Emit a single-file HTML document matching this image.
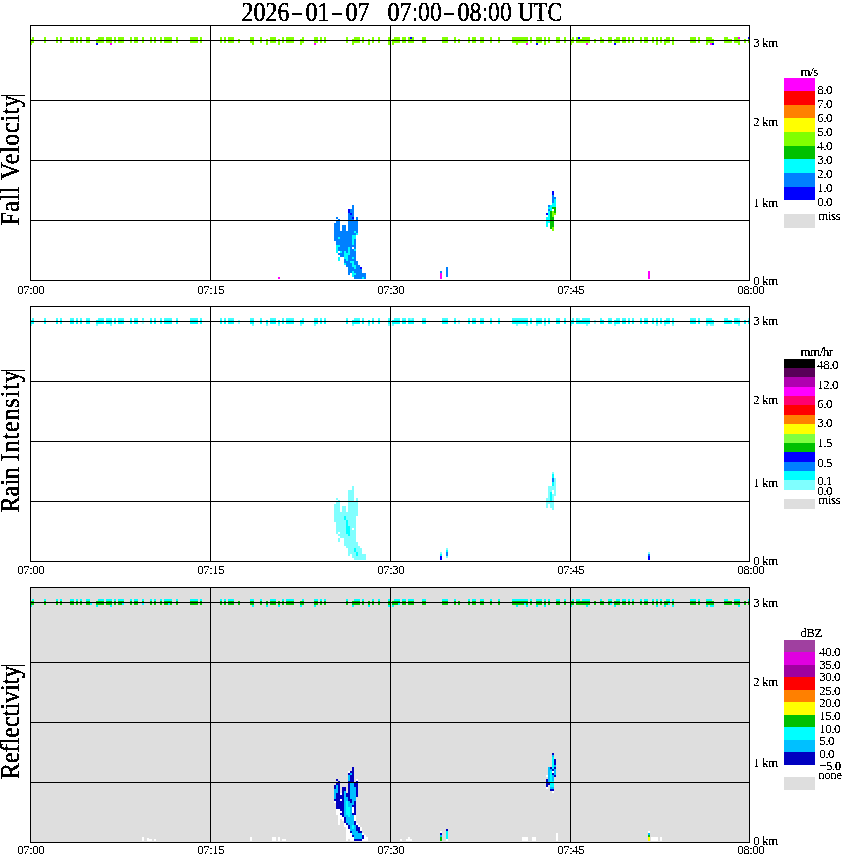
<!DOCTYPE html>
<html><head><meta charset="utf-8"><title>Radar profile 2026-01-07 07:00-08:00 UTC</title>
<style>
html,body{margin:0;padding:0;background:#fff;}
body{width:850px;height:868px;overflow:hidden;position:relative;}
svg{position:absolute;left:0;top:0;display:block;}
text{font-family:"Liberation Serif",serif;fill:#000;}
.s{font-size:13px;letter-spacing:-0.5px;}
.g{shape-rendering:crispEdges;}
</style></head><body>
<svg width="850" height="868" viewBox="0 0 850 868">
<defs>
<filter id="bw" x="-5%" y="-20%" width="110%" height="140%" color-interpolation-filters="sRGB"><feComponentTransfer><feFuncA type="discrete" tableValues="0 0 1 1 1"/></feComponentTransfer></filter>
<filter id="bw3" x="-5%" y="-20%" width="110%" height="140%" color-interpolation-filters="sRGB"><feComponentTransfer><feFuncA type="discrete" tableValues="0 1 1"/></feComponentTransfer></filter>
<filter id="bw2" x="-5%" y="-20%" width="110%" height="140%" color-interpolation-filters="sRGB"><feComponentTransfer><feFuncA type="discrete" tableValues="0 1"/></feComponentTransfer></filter>
</defs>
<rect width="850" height="868" fill="#fff"/>

<g class="g">
<rect x="30" y="587" width="720" height="256" fill="#dedede"/>
<rect x="32" y="37" width="2" height="2" fill="#80ff00"/>
<rect x="44" y="37" width="2" height="6" fill="#80ff00"/>
<rect x="56" y="37" width="2" height="6" fill="#80ff00"/>
<rect x="60" y="37" width="2" height="6" fill="#80ff00"/>
<rect x="70" y="37" width="4" height="6" fill="#80ff00"/>
<rect x="76" y="37" width="2" height="6" fill="#80ff00"/>
<rect x="80" y="37" width="2" height="6" fill="#80ff00"/>
<rect x="86" y="37" width="4" height="6" fill="#80ff00"/>
<rect x="98" y="37" width="6" height="2" fill="#80ff00"/>
<rect x="106" y="37" width="6" height="6" fill="#80ff00"/>
<rect x="114" y="37" width="2" height="6" fill="#80ff00"/>
<rect x="118" y="37" width="6" height="6" fill="#80ff00"/>
<rect x="130" y="37" width="2" height="6" fill="#80ff00"/>
<rect x="134" y="37" width="4" height="6" fill="#80ff00"/>
<rect x="142" y="37" width="2" height="6" fill="#80ff00"/>
<rect x="150" y="37" width="2" height="6" fill="#80ff00"/>
<rect x="154" y="37" width="2" height="6" fill="#80ff00"/>
<rect x="160" y="37" width="2" height="6" fill="#80ff00"/>
<rect x="164" y="37" width="8" height="6" fill="#80ff00"/>
<rect x="176" y="37" width="2" height="6" fill="#80ff00"/>
<rect x="190" y="37" width="8" height="6" fill="#80ff00"/>
<rect x="200" y="37" width="2" height="6" fill="#80ff00"/>
<rect x="220" y="37" width="2" height="6" fill="#80ff00"/>
<rect x="224" y="37" width="2" height="6" fill="#80ff00"/>
<rect x="228" y="37" width="6" height="6" fill="#80ff00"/>
<rect x="250" y="37" width="4" height="6" fill="#80ff00"/>
<rect x="260" y="37" width="2" height="6" fill="#80ff00"/>
<rect x="270" y="37" width="6" height="6" fill="#80ff00"/>
<rect x="282" y="37" width="2" height="6" fill="#80ff00"/>
<rect x="286" y="37" width="8" height="6" fill="#80ff00"/>
<rect x="302" y="37" width="2" height="2" fill="#80ff00"/>
<rect x="314" y="37" width="4" height="6" fill="#80ff00"/>
<rect x="320" y="37" width="2" height="6" fill="#80ff00"/>
<rect x="324" y="37" width="2" height="6" fill="#80ff00"/>
<rect x="346" y="37" width="2" height="6" fill="#80ff00"/>
<rect x="354" y="37" width="6" height="2" fill="#80ff00"/>
<rect x="362" y="37" width="2" height="6" fill="#80ff00"/>
<rect x="372" y="37" width="2" height="6" fill="#80ff00"/>
<rect x="378" y="37" width="2" height="6" fill="#80ff00"/>
<rect x="388" y="37" width="2" height="8" fill="#80ff00"/>
<rect x="394" y="37" width="6" height="2" fill="#80ff00"/>
<rect x="402" y="37" width="4" height="6" fill="#80ff00"/>
<rect x="408" y="37" width="2" height="2" fill="#80ff00"/>
<rect x="410" y="37" width="2" height="2" fill="#0000ff"/>
<rect x="412" y="37" width="2" height="2" fill="#80ff00"/>
<rect x="422" y="37" width="4" height="6" fill="#80ff00"/>
<rect x="442" y="37" width="6" height="6" fill="#80ff00"/>
<rect x="454" y="37" width="2" height="6" fill="#80ff00"/>
<rect x="468" y="37" width="2" height="6" fill="#80ff00"/>
<rect x="472" y="37" width="4" height="6" fill="#80ff00"/>
<rect x="480" y="37" width="4" height="6" fill="#80ff00"/>
<rect x="490" y="37" width="2" height="6" fill="#80ff00"/>
<rect x="498" y="37" width="2" height="6" fill="#80ff00"/>
<rect x="512" y="37" width="16" height="6" fill="#80ff00"/>
<rect x="530" y="37" width="2" height="6" fill="#80ff00"/>
<rect x="536" y="37" width="6" height="6" fill="#80ff00"/>
<rect x="544" y="37" width="2" height="8" fill="#80ff00"/>
<rect x="548" y="37" width="2" height="6" fill="#80ff00"/>
<rect x="556" y="37" width="4" height="6" fill="#80ff00"/>
<rect x="564" y="37" width="2" height="6" fill="#80ff00"/>
<rect x="572" y="37" width="2" height="2" fill="#80ff00"/>
<rect x="576" y="37" width="2" height="2" fill="#80ff00"/>
<rect x="578" y="37" width="2" height="2" fill="#0000ff"/>
<rect x="582" y="37" width="8" height="2" fill="#80ff00"/>
<rect x="600" y="37" width="2" height="2" fill="#80ff00"/>
<rect x="608" y="37" width="4" height="6" fill="#80ff00"/>
<rect x="616" y="37" width="4" height="2" fill="#80ff00"/>
<rect x="622" y="37" width="4" height="6" fill="#80ff00"/>
<rect x="628" y="37" width="2" height="6" fill="#80ff00"/>
<rect x="632" y="37" width="2" height="6" fill="#80ff00"/>
<rect x="640" y="37" width="2" height="6" fill="#80ff00"/>
<rect x="644" y="37" width="4" height="6" fill="#80ff00"/>
<rect x="652" y="37" width="2" height="6" fill="#80ff00"/>
<rect x="656" y="37" width="2" height="8" fill="#80ff00"/>
<rect x="660" y="37" width="2" height="6" fill="#80ff00"/>
<rect x="666" y="37" width="4" height="2" fill="#80ff00"/>
<rect x="672" y="37" width="2" height="8" fill="#80ff00"/>
<rect x="690" y="37" width="6" height="6" fill="#80ff00"/>
<rect x="698" y="37" width="2" height="6" fill="#80ff00"/>
<rect x="706" y="37" width="6" height="2" fill="#80ff00"/>
<rect x="724" y="37" width="4" height="2" fill="#80ff00"/>
<rect x="734" y="37" width="4" height="2" fill="#80ff00"/>
<rect x="738" y="37" width="2" height="2" fill="#ff00ff"/>
<rect x="748" y="37" width="2" height="2" fill="#0000ff"/>
<rect x="30" y="39" width="4" height="4" fill="#80ff00"/>
<rect x="96" y="39" width="8" height="4" fill="#80ff00"/>
<rect x="238" y="39" width="2" height="4" fill="#80ff00"/>
<rect x="266" y="39" width="2" height="6" fill="#80ff00"/>
<rect x="278" y="39" width="2" height="6" fill="#80ff00"/>
<rect x="300" y="39" width="4" height="4" fill="#80ff00"/>
<rect x="352" y="39" width="8" height="4" fill="#80ff00"/>
<rect x="368" y="39" width="2" height="6" fill="#80ff00"/>
<rect x="392" y="39" width="8" height="4" fill="#80ff00"/>
<rect x="408" y="39" width="6" height="4" fill="#80ff00"/>
<rect x="458" y="39" width="2" height="4" fill="#80ff00"/>
<rect x="570" y="39" width="4" height="4" fill="#80ff00"/>
<rect x="576" y="39" width="14" height="4" fill="#80ff00"/>
<rect x="594" y="39" width="2" height="4" fill="#80ff00"/>
<rect x="600" y="39" width="4" height="4" fill="#80ff00"/>
<rect x="614" y="39" width="6" height="4" fill="#80ff00"/>
<rect x="664" y="39" width="6" height="4" fill="#80ff00"/>
<rect x="706" y="39" width="8" height="4" fill="#80ff00"/>
<rect x="724" y="39" width="8" height="4" fill="#80ff00"/>
<rect x="734" y="39" width="6" height="4" fill="#80ff00"/>
<rect x="744" y="39" width="2" height="4" fill="#80ff00"/>
<rect x="748" y="39" width="2" height="4" fill="#80ff00"/>
<rect x="30" y="43" width="2" height="2" fill="#80ff00"/>
<rect x="96" y="43" width="2" height="2" fill="#0000ff"/>
<rect x="110" y="43" width="2" height="2" fill="#ff00ff"/>
<rect x="252" y="43" width="2" height="2" fill="#80ff00"/>
<rect x="300" y="43" width="2" height="2" fill="#80ff00"/>
<rect x="314" y="43" width="2" height="2" fill="#ff00ff"/>
<rect x="352" y="43" width="2" height="2" fill="#80ff00"/>
<rect x="392" y="43" width="2" height="2" fill="#80ff00"/>
<rect x="516" y="43" width="2" height="2" fill="#80ff00"/>
<rect x="526" y="43" width="2" height="2" fill="#ff00ff"/>
<rect x="536" y="43" width="2" height="2" fill="#0000ff"/>
<rect x="570" y="43" width="2" height="2" fill="#80ff00"/>
<rect x="586" y="43" width="2" height="2" fill="#ff00ff"/>
<rect x="614" y="43" width="2" height="2" fill="#0000ff"/>
<rect x="664" y="43" width="2" height="2" fill="#80ff00"/>
<rect x="706" y="43" width="2" height="2" fill="#80ff00"/>
<rect x="710" y="43" width="2" height="2" fill="#ff00ff"/>
<rect x="712" y="43" width="2" height="2" fill="#0000ff"/>
<rect x="738" y="43" width="2" height="2" fill="#80ff00"/>
<rect x="552" y="191" width="2" height="4" fill="#0000ff"/>
<rect x="552" y="195" width="2" height="2" fill="#0080ff"/>
<rect x="552" y="199" width="2" height="4" fill="#0080ff"/>
<rect x="552" y="197" width="4" height="2" fill="#0080ff"/>
<rect x="554" y="199" width="2" height="4" fill="#00ffff"/>
<rect x="552" y="203" width="4" height="2" fill="#00ffff"/>
<rect x="352" y="205" width="2" height="4" fill="#0080ff"/>
<rect x="352" y="213" width="2" height="2" fill="#0080ff"/>
<rect x="548" y="205" width="2" height="2" fill="#0080ff"/>
<rect x="548" y="209" width="2" height="2" fill="#0080ff"/>
<rect x="550" y="205" width="6" height="2" fill="#00ffff"/>
<rect x="548" y="207" width="4" height="2" fill="#00ffff"/>
<rect x="552" y="207" width="4" height="2" fill="#00c000"/>
<rect x="348" y="209" width="2" height="4" fill="#0000ff"/>
<rect x="350" y="209" width="4" height="4" fill="#0080ff"/>
<rect x="350" y="249" width="4" height="2" fill="#0080ff"/>
<rect x="550" y="209" width="2" height="2" fill="#00ffff"/>
<rect x="552" y="209" width="2" height="2" fill="#ffffff"/>
<rect x="554" y="209" width="2" height="4" fill="#00c000"/>
<rect x="548" y="211" width="2" height="6" fill="#00ffff"/>
<rect x="550" y="211" width="2" height="6" fill="#00c000"/>
<rect x="550" y="227" width="2" height="2" fill="#00c000"/>
<rect x="552" y="211" width="2" height="2" fill="#80ff00"/>
<rect x="552" y="215" width="2" height="2" fill="#80ff00"/>
<rect x="552" y="227" width="2" height="4" fill="#80ff00"/>
<rect x="348" y="213" width="2" height="2" fill="#0080ff"/>
<rect x="348" y="273" width="2" height="2" fill="#0080ff"/>
<rect x="350" y="213" width="2" height="2" fill="#0000ff"/>
<rect x="546" y="213" width="2" height="2" fill="#0000ff"/>
<rect x="552" y="213" width="4" height="2" fill="#80ff00"/>
<rect x="348" y="215" width="6" height="2" fill="#0080ff"/>
<rect x="348" y="219" width="6" height="2" fill="#0080ff"/>
<rect x="348" y="267" width="6" height="2" fill="#0080ff"/>
<rect x="336" y="217" width="2" height="2" fill="#0080ff"/>
<rect x="348" y="217" width="4" height="2" fill="#0080ff"/>
<rect x="348" y="257" width="4" height="2" fill="#0080ff"/>
<rect x="348" y="271" width="4" height="2" fill="#0080ff"/>
<rect x="352" y="217" width="2" height="2" fill="#0000ff"/>
<rect x="356" y="217" width="2" height="4" fill="#0080ff"/>
<rect x="356" y="231" width="2" height="2" fill="#0080ff"/>
<rect x="546" y="217" width="4" height="6" fill="#00ffff"/>
<rect x="550" y="217" width="4" height="10" fill="#00c000"/>
<rect x="338" y="219" width="2" height="2" fill="#0080ff"/>
<rect x="336" y="221" width="4" height="2" fill="#0080ff"/>
<rect x="348" y="221" width="10" height="10" fill="#0080ff"/>
<rect x="334" y="223" width="6" height="8" fill="#0080ff"/>
<rect x="546" y="223" width="2" height="4" fill="#00ffff"/>
<rect x="342" y="225" width="4" height="6" fill="#0080ff"/>
<rect x="334" y="231" width="20" height="2" fill="#0080ff"/>
<rect x="354" y="231" width="2" height="2" fill="#00ffff"/>
<rect x="354" y="249" width="2" height="2" fill="#00ffff"/>
<rect x="354" y="267" width="2" height="2" fill="#00ffff"/>
<rect x="334" y="233" width="22" height="2" fill="#0080ff"/>
<rect x="356" y="233" width="2" height="2" fill="#00ffff"/>
<rect x="334" y="235" width="18" height="2" fill="#0080ff"/>
<rect x="334" y="239" width="18" height="2" fill="#0080ff"/>
<rect x="352" y="235" width="4" height="4" fill="#00ffff"/>
<rect x="352" y="265" width="4" height="2" fill="#00ffff"/>
<rect x="352" y="273" width="4" height="2" fill="#00ffff"/>
<rect x="334" y="237" width="4" height="2" fill="#0080ff"/>
<rect x="338" y="237" width="2" height="2" fill="#00ffff"/>
<rect x="338" y="257" width="2" height="4" fill="#00ffff"/>
<rect x="340" y="237" width="12" height="2" fill="#0080ff"/>
<rect x="352" y="239" width="2" height="6" fill="#00ffff"/>
<rect x="352" y="257" width="2" height="2" fill="#00ffff"/>
<rect x="352" y="263" width="2" height="2" fill="#00ffff"/>
<rect x="352" y="271" width="2" height="2" fill="#00ffff"/>
<rect x="352" y="275" width="2" height="2" fill="#00ffff"/>
<rect x="354" y="239" width="2" height="6" fill="#0080ff"/>
<rect x="354" y="247" width="2" height="2" fill="#0080ff"/>
<rect x="354" y="257" width="2" height="2" fill="#0080ff"/>
<rect x="336" y="241" width="16" height="4" fill="#0080ff"/>
<rect x="336" y="245" width="4" height="2" fill="#00ffff"/>
<rect x="340" y="245" width="16" height="2" fill="#0080ff"/>
<rect x="336" y="247" width="2" height="6" fill="#00ffff"/>
<rect x="338" y="247" width="10" height="4" fill="#0080ff"/>
<rect x="348" y="247" width="2" height="6" fill="#00ffff"/>
<rect x="350" y="247" width="2" height="2" fill="#0080ff"/>
<rect x="352" y="247" width="2" height="2" fill="#ffffff"/>
<rect x="338" y="251" width="2" height="2" fill="#ffffff"/>
<rect x="340" y="251" width="2" height="2" fill="#00ffff"/>
<rect x="342" y="251" width="2" height="2" fill="#0080ff"/>
<rect x="344" y="251" width="2" height="2" fill="#00ffff"/>
<rect x="344" y="263" width="2" height="2" fill="#00ffff"/>
<rect x="346" y="251" width="2" height="2" fill="#0080ff"/>
<rect x="350" y="251" width="6" height="4" fill="#0080ff"/>
<rect x="338" y="253" width="6" height="2" fill="#0080ff"/>
<rect x="344" y="253" width="6" height="2" fill="#00ffff"/>
<rect x="340" y="255" width="4" height="2" fill="#0080ff"/>
<rect x="344" y="255" width="4" height="4" fill="#00ffff"/>
<rect x="348" y="255" width="8" height="2" fill="#0080ff"/>
<rect x="348" y="259" width="8" height="2" fill="#0080ff"/>
<rect x="344" y="259" width="2" height="2" fill="#0080ff"/>
<rect x="346" y="259" width="2" height="2" fill="#00ffff"/>
<rect x="344" y="261" width="6" height="2" fill="#0080ff"/>
<rect x="350" y="261" width="4" height="2" fill="#00ffff"/>
<rect x="354" y="261" width="4" height="4" fill="#0080ff"/>
<rect x="346" y="263" width="6" height="4" fill="#0080ff"/>
<rect x="356" y="265" width="4" height="4" fill="#0080ff"/>
<rect x="360" y="267" width="2" height="2" fill="#0000ff"/>
<rect x="446" y="267" width="2" height="10" fill="#0080ff"/>
<rect x="348" y="269" width="14" height="2" fill="#0080ff"/>
<rect x="354" y="271" width="8" height="2" fill="#0080ff"/>
<rect x="354" y="277" width="8" height="2" fill="#0080ff"/>
<rect x="440" y="271" width="2" height="2" fill="#0080ff"/>
<rect x="648" y="271" width="2" height="8" fill="#ff00ff"/>
<rect x="356" y="273" width="10" height="2" fill="#0080ff"/>
<rect x="440" y="273" width="2" height="6" fill="#ff00ff"/>
<rect x="354" y="275" width="12" height="2" fill="#0080ff"/>
<rect x="278" y="277" width="2" height="2" fill="#ff00ff"/>
<rect x="362" y="277" width="2" height="2" fill="#00ffff"/>
<rect x="364" y="277" width="2" height="2" fill="#0080ff"/>
<rect x="32" y="318" width="2" height="2" fill="#40ffff"/>
<rect x="44" y="318" width="2" height="2" fill="#40ffff"/>
<rect x="56" y="318" width="2" height="2" fill="#40ffff"/>
<rect x="60" y="318" width="2" height="2" fill="#40ffff"/>
<rect x="70" y="318" width="4" height="2" fill="#40ffff"/>
<rect x="76" y="318" width="2" height="2" fill="#40ffff"/>
<rect x="80" y="318" width="2" height="2" fill="#40ffff"/>
<rect x="86" y="318" width="4" height="2" fill="#40ffff"/>
<rect x="98" y="318" width="6" height="2" fill="#40ffff"/>
<rect x="106" y="318" width="6" height="2" fill="#40ffff"/>
<rect x="114" y="318" width="2" height="2" fill="#40ffff"/>
<rect x="118" y="318" width="6" height="2" fill="#40ffff"/>
<rect x="130" y="318" width="2" height="2" fill="#40ffff"/>
<rect x="134" y="318" width="4" height="2" fill="#40ffff"/>
<rect x="142" y="318" width="2" height="2" fill="#40ffff"/>
<rect x="150" y="318" width="2" height="2" fill="#40ffff"/>
<rect x="154" y="318" width="2" height="2" fill="#40ffff"/>
<rect x="160" y="318" width="2" height="2" fill="#40ffff"/>
<rect x="164" y="318" width="8" height="2" fill="#40ffff"/>
<rect x="176" y="318" width="2" height="2" fill="#40ffff"/>
<rect x="190" y="318" width="8" height="2" fill="#40ffff"/>
<rect x="200" y="318" width="2" height="2" fill="#40ffff"/>
<rect x="220" y="318" width="2" height="2" fill="#40ffff"/>
<rect x="224" y="318" width="2" height="2" fill="#40ffff"/>
<rect x="228" y="318" width="6" height="2" fill="#40ffff"/>
<rect x="250" y="318" width="4" height="2" fill="#40ffff"/>
<rect x="260" y="318" width="2" height="2" fill="#40ffff"/>
<rect x="270" y="318" width="6" height="2" fill="#40ffff"/>
<rect x="282" y="318" width="2" height="2" fill="#40ffff"/>
<rect x="286" y="318" width="8" height="2" fill="#40ffff"/>
<rect x="302" y="318" width="2" height="2" fill="#40ffff"/>
<rect x="314" y="318" width="4" height="2" fill="#40ffff"/>
<rect x="320" y="318" width="2" height="2" fill="#40ffff"/>
<rect x="324" y="318" width="2" height="2" fill="#40ffff"/>
<rect x="346" y="318" width="2" height="2" fill="#40ffff"/>
<rect x="354" y="318" width="6" height="2" fill="#40ffff"/>
<rect x="362" y="318" width="2" height="2" fill="#40ffff"/>
<rect x="372" y="318" width="2" height="2" fill="#40ffff"/>
<rect x="378" y="318" width="2" height="2" fill="#40ffff"/>
<rect x="388" y="318" width="2" height="2" fill="#40ffff"/>
<rect x="394" y="318" width="6" height="2" fill="#40ffff"/>
<rect x="402" y="318" width="4" height="2" fill="#40ffff"/>
<rect x="408" y="318" width="2" height="2" fill="#40ffff"/>
<rect x="410" y="318" width="2" height="2" fill="#80ffff"/>
<rect x="412" y="318" width="2" height="2" fill="#40ffff"/>
<rect x="422" y="318" width="4" height="2" fill="#40ffff"/>
<rect x="442" y="318" width="6" height="2" fill="#40ffff"/>
<rect x="454" y="318" width="2" height="2" fill="#40ffff"/>
<rect x="468" y="318" width="2" height="2" fill="#40ffff"/>
<rect x="472" y="318" width="4" height="2" fill="#40ffff"/>
<rect x="480" y="318" width="4" height="2" fill="#40ffff"/>
<rect x="490" y="318" width="2" height="2" fill="#40ffff"/>
<rect x="498" y="318" width="2" height="2" fill="#40ffff"/>
<rect x="512" y="318" width="16" height="2" fill="#40ffff"/>
<rect x="530" y="318" width="2" height="2" fill="#40ffff"/>
<rect x="536" y="318" width="6" height="2" fill="#40ffff"/>
<rect x="544" y="318" width="2" height="2" fill="#40ffff"/>
<rect x="548" y="318" width="2" height="2" fill="#40ffff"/>
<rect x="556" y="318" width="4" height="2" fill="#40ffff"/>
<rect x="564" y="318" width="2" height="2" fill="#40ffff"/>
<rect x="572" y="318" width="2" height="2" fill="#40ffff"/>
<rect x="576" y="318" width="2" height="2" fill="#40ffff"/>
<rect x="578" y="318" width="2" height="2" fill="#80ffff"/>
<rect x="582" y="318" width="8" height="2" fill="#40ffff"/>
<rect x="600" y="318" width="2" height="2" fill="#40ffff"/>
<rect x="608" y="318" width="4" height="2" fill="#40ffff"/>
<rect x="616" y="318" width="4" height="2" fill="#40ffff"/>
<rect x="622" y="318" width="4" height="2" fill="#40ffff"/>
<rect x="628" y="318" width="2" height="2" fill="#40ffff"/>
<rect x="632" y="318" width="2" height="2" fill="#40ffff"/>
<rect x="640" y="318" width="2" height="2" fill="#40ffff"/>
<rect x="644" y="318" width="4" height="2" fill="#40ffff"/>
<rect x="652" y="318" width="2" height="2" fill="#40ffff"/>
<rect x="656" y="318" width="2" height="2" fill="#40ffff"/>
<rect x="660" y="318" width="2" height="2" fill="#40ffff"/>
<rect x="666" y="318" width="4" height="2" fill="#40ffff"/>
<rect x="672" y="318" width="2" height="2" fill="#40ffff"/>
<rect x="690" y="318" width="6" height="2" fill="#40ffff"/>
<rect x="698" y="318" width="2" height="2" fill="#40ffff"/>
<rect x="706" y="318" width="6" height="2" fill="#40ffff"/>
<rect x="724" y="318" width="4" height="2" fill="#40ffff"/>
<rect x="734" y="318" width="4" height="2" fill="#40ffff"/>
<rect x="738" y="318" width="2" height="2" fill="#80ffff"/>
<rect x="738" y="324" width="2" height="2" fill="#80ffff"/>
<rect x="748" y="318" width="2" height="2" fill="#80ffff"/>
<rect x="30" y="320" width="4" height="4" fill="#00ffff"/>
<rect x="44" y="320" width="2" height="4" fill="#00ffff"/>
<rect x="56" y="320" width="2" height="4" fill="#00ffff"/>
<rect x="60" y="320" width="2" height="4" fill="#00ffff"/>
<rect x="70" y="320" width="4" height="4" fill="#00ffff"/>
<rect x="76" y="320" width="2" height="4" fill="#00ffff"/>
<rect x="80" y="320" width="2" height="4" fill="#00ffff"/>
<rect x="86" y="320" width="4" height="4" fill="#00ffff"/>
<rect x="96" y="320" width="8" height="4" fill="#00ffff"/>
<rect x="106" y="320" width="6" height="4" fill="#00ffff"/>
<rect x="114" y="320" width="2" height="4" fill="#00ffff"/>
<rect x="118" y="320" width="6" height="4" fill="#00ffff"/>
<rect x="130" y="320" width="2" height="4" fill="#00ffff"/>
<rect x="134" y="320" width="4" height="4" fill="#00ffff"/>
<rect x="142" y="320" width="2" height="4" fill="#80ffff"/>
<rect x="150" y="320" width="2" height="4" fill="#00ffff"/>
<rect x="154" y="320" width="2" height="4" fill="#00ffff"/>
<rect x="160" y="320" width="2" height="4" fill="#00ffff"/>
<rect x="164" y="320" width="8" height="4" fill="#00ffff"/>
<rect x="176" y="320" width="2" height="4" fill="#00ffff"/>
<rect x="190" y="320" width="8" height="4" fill="#00ffff"/>
<rect x="200" y="320" width="2" height="4" fill="#00ffff"/>
<rect x="220" y="320" width="2" height="4" fill="#00ffff"/>
<rect x="224" y="320" width="2" height="4" fill="#00ffff"/>
<rect x="228" y="320" width="6" height="4" fill="#00ffff"/>
<rect x="238" y="320" width="2" height="4" fill="#80ffff"/>
<rect x="250" y="320" width="4" height="4" fill="#00ffff"/>
<rect x="260" y="320" width="2" height="4" fill="#00ffff"/>
<rect x="266" y="320" width="2" height="4" fill="#00ffff"/>
<rect x="270" y="320" width="6" height="4" fill="#00ffff"/>
<rect x="278" y="320" width="2" height="4" fill="#00ffff"/>
<rect x="282" y="320" width="2" height="4" fill="#00ffff"/>
<rect x="286" y="320" width="8" height="4" fill="#00ffff"/>
<rect x="300" y="320" width="4" height="4" fill="#00ffff"/>
<rect x="314" y="320" width="4" height="4" fill="#00ffff"/>
<rect x="320" y="320" width="2" height="4" fill="#00ffff"/>
<rect x="324" y="320" width="2" height="4" fill="#00ffff"/>
<rect x="346" y="320" width="2" height="4" fill="#00ffff"/>
<rect x="346" y="520" width="2" height="6" fill="#00ffff"/>
<rect x="352" y="320" width="8" height="4" fill="#00ffff"/>
<rect x="362" y="320" width="2" height="4" fill="#00ffff"/>
<rect x="368" y="320" width="2" height="4" fill="#00ffff"/>
<rect x="372" y="320" width="2" height="4" fill="#00ffff"/>
<rect x="378" y="320" width="2" height="4" fill="#00ffff"/>
<rect x="388" y="320" width="2" height="4" fill="#00ffff"/>
<rect x="392" y="320" width="8" height="4" fill="#00ffff"/>
<rect x="402" y="320" width="4" height="4" fill="#00ffff"/>
<rect x="408" y="320" width="6" height="4" fill="#00ffff"/>
<rect x="422" y="320" width="4" height="4" fill="#00ffff"/>
<rect x="442" y="320" width="6" height="4" fill="#00ffff"/>
<rect x="454" y="320" width="2" height="4" fill="#00ffff"/>
<rect x="458" y="320" width="2" height="4" fill="#80ffff"/>
<rect x="468" y="320" width="2" height="4" fill="#00ffff"/>
<rect x="472" y="320" width="4" height="4" fill="#00ffff"/>
<rect x="480" y="320" width="4" height="4" fill="#00ffff"/>
<rect x="490" y="320" width="2" height="4" fill="#00ffff"/>
<rect x="498" y="320" width="2" height="4" fill="#00ffff"/>
<rect x="512" y="320" width="16" height="4" fill="#00ffff"/>
<rect x="530" y="320" width="2" height="4" fill="#00ffff"/>
<rect x="536" y="320" width="6" height="4" fill="#00ffff"/>
<rect x="544" y="320" width="2" height="4" fill="#00ffff"/>
<rect x="548" y="320" width="2" height="4" fill="#00ffff"/>
<rect x="556" y="320" width="4" height="4" fill="#00ffff"/>
<rect x="564" y="320" width="2" height="4" fill="#00ffff"/>
<rect x="570" y="320" width="4" height="4" fill="#00ffff"/>
<rect x="576" y="320" width="14" height="4" fill="#00ffff"/>
<rect x="594" y="320" width="2" height="4" fill="#80ffff"/>
<rect x="600" y="320" width="4" height="4" fill="#00ffff"/>
<rect x="608" y="320" width="4" height="4" fill="#00ffff"/>
<rect x="614" y="320" width="6" height="4" fill="#00ffff"/>
<rect x="622" y="320" width="4" height="4" fill="#00ffff"/>
<rect x="628" y="320" width="2" height="4" fill="#00ffff"/>
<rect x="632" y="320" width="2" height="4" fill="#00ffff"/>
<rect x="640" y="320" width="2" height="4" fill="#00ffff"/>
<rect x="644" y="320" width="4" height="4" fill="#00ffff"/>
<rect x="652" y="320" width="2" height="4" fill="#00ffff"/>
<rect x="656" y="320" width="2" height="4" fill="#00ffff"/>
<rect x="660" y="320" width="2" height="4" fill="#00ffff"/>
<rect x="664" y="320" width="6" height="4" fill="#00ffff"/>
<rect x="672" y="320" width="2" height="4" fill="#00ffff"/>
<rect x="690" y="320" width="6" height="4" fill="#00ffff"/>
<rect x="698" y="320" width="2" height="4" fill="#00ffff"/>
<rect x="706" y="320" width="8" height="4" fill="#00ffff"/>
<rect x="724" y="320" width="8" height="4" fill="#00ffff"/>
<rect x="734" y="320" width="6" height="4" fill="#00ffff"/>
<rect x="744" y="320" width="2" height="4" fill="#00ffff"/>
<rect x="748" y="320" width="2" height="4" fill="#00ffff"/>
<rect x="30" y="324" width="2" height="2" fill="#80ffff"/>
<rect x="96" y="324" width="2" height="2" fill="#80ffff"/>
<rect x="110" y="324" width="2" height="2" fill="#80ffff"/>
<rect x="252" y="324" width="2" height="2" fill="#80ffff"/>
<rect x="266" y="324" width="2" height="2" fill="#80ffff"/>
<rect x="278" y="324" width="2" height="2" fill="#80ffff"/>
<rect x="300" y="324" width="2" height="2" fill="#80ffff"/>
<rect x="314" y="324" width="2" height="2" fill="#80ffff"/>
<rect x="352" y="324" width="2" height="2" fill="#80ffff"/>
<rect x="352" y="486" width="2" height="4" fill="#80ffff"/>
<rect x="368" y="324" width="2" height="2" fill="#80ffff"/>
<rect x="388" y="324" width="2" height="2" fill="#80ffff"/>
<rect x="392" y="324" width="2" height="2" fill="#80ffff"/>
<rect x="516" y="324" width="2" height="2" fill="#80ffff"/>
<rect x="526" y="324" width="2" height="2" fill="#80ffff"/>
<rect x="536" y="324" width="2" height="2" fill="#80ffff"/>
<rect x="544" y="324" width="2" height="2" fill="#80ffff"/>
<rect x="570" y="324" width="2" height="2" fill="#80ffff"/>
<rect x="586" y="324" width="2" height="2" fill="#80ffff"/>
<rect x="614" y="324" width="2" height="2" fill="#80ffff"/>
<rect x="656" y="324" width="2" height="2" fill="#80ffff"/>
<rect x="664" y="324" width="2" height="2" fill="#80ffff"/>
<rect x="672" y="324" width="2" height="2" fill="#80ffff"/>
<rect x="706" y="324" width="2" height="2" fill="#80ffff"/>
<rect x="710" y="324" width="4" height="2" fill="#80ffff"/>
<rect x="552" y="472" width="2" height="2" fill="#80ffff"/>
<rect x="552" y="496" width="2" height="6" fill="#80ffff"/>
<rect x="552" y="508" width="2" height="2" fill="#80ffff"/>
<rect x="552" y="474" width="2" height="4" fill="#00ffff"/>
<rect x="552" y="482" width="2" height="4" fill="#00ffff"/>
<rect x="552" y="478" width="2" height="4" fill="#0080ff"/>
<rect x="554" y="478" width="2" height="8" fill="#80ffff"/>
<rect x="554" y="490" width="2" height="4" fill="#80ffff"/>
<rect x="548" y="486" width="8" height="4" fill="#80ffff"/>
<rect x="348" y="490" width="6" height="12" fill="#80ffff"/>
<rect x="348" y="548" width="6" height="4" fill="#80ffff"/>
<rect x="548" y="490" width="4" height="2" fill="#80ffff"/>
<rect x="552" y="490" width="2" height="4" fill="#ffffff"/>
<rect x="548" y="492" width="2" height="6" fill="#80ffff"/>
<rect x="550" y="492" width="2" height="10" fill="#00ffff"/>
<rect x="552" y="494" width="4" height="2" fill="#80ffff"/>
<rect x="336" y="498" width="2" height="2" fill="#80ffff"/>
<rect x="336" y="532" width="2" height="2" fill="#80ffff"/>
<rect x="356" y="498" width="2" height="4" fill="#80ffff"/>
<rect x="546" y="498" width="4" height="4" fill="#80ffff"/>
<rect x="338" y="500" width="2" height="2" fill="#80ffff"/>
<rect x="338" y="538" width="2" height="4" fill="#80ffff"/>
<rect x="336" y="502" width="4" height="2" fill="#80ffff"/>
<rect x="348" y="502" width="10" height="10" fill="#80ffff"/>
<rect x="546" y="502" width="8" height="2" fill="#80ffff"/>
<rect x="334" y="504" width="6" height="8" fill="#80ffff"/>
<rect x="546" y="504" width="2" height="4" fill="#80ffff"/>
<rect x="550" y="504" width="4" height="4" fill="#80ffff"/>
<rect x="342" y="506" width="4" height="6" fill="#80ffff"/>
<rect x="334" y="512" width="24" height="4" fill="#80ffff"/>
<rect x="334" y="516" width="10" height="4" fill="#80ffff"/>
<rect x="344" y="516" width="2" height="4" fill="#00ffff"/>
<rect x="346" y="516" width="10" height="4" fill="#80ffff"/>
<rect x="334" y="520" width="12" height="2" fill="#80ffff"/>
<rect x="348" y="520" width="8" height="6" fill="#80ffff"/>
<rect x="348" y="552" width="8" height="2" fill="#80ffff"/>
<rect x="336" y="522" width="10" height="10" fill="#80ffff"/>
<rect x="346" y="526" width="4" height="8" fill="#00ffff"/>
<rect x="350" y="526" width="6" height="2" fill="#80ffff"/>
<rect x="350" y="530" width="6" height="6" fill="#80ffff"/>
<rect x="350" y="528" width="2" height="2" fill="#80ffff"/>
<rect x="352" y="528" width="2" height="2" fill="#ffffff"/>
<rect x="354" y="528" width="2" height="2" fill="#80ffff"/>
<rect x="338" y="532" width="2" height="2" fill="#ffffff"/>
<rect x="340" y="532" width="6" height="2" fill="#80ffff"/>
<rect x="338" y="534" width="10" height="2" fill="#80ffff"/>
<rect x="348" y="534" width="2" height="2" fill="#00ffff"/>
<rect x="340" y="536" width="16" height="2" fill="#80ffff"/>
<rect x="344" y="538" width="12" height="4" fill="#80ffff"/>
<rect x="344" y="542" width="14" height="4" fill="#80ffff"/>
<rect x="346" y="546" width="14" height="2" fill="#80ffff"/>
<rect x="354" y="548" width="2" height="4" fill="#00ffff"/>
<rect x="356" y="548" width="6" height="4" fill="#80ffff"/>
<rect x="446" y="548" width="2" height="2" fill="#80ffff"/>
<rect x="446" y="556" width="2" height="2" fill="#80ffff"/>
<rect x="446" y="550" width="2" height="2" fill="#00ffff"/>
<rect x="356" y="552" width="2" height="4" fill="#00ffff"/>
<rect x="358" y="552" width="4" height="2" fill="#80ffff"/>
<rect x="440" y="552" width="2" height="2" fill="#80ffff"/>
<rect x="446" y="552" width="2" height="4" fill="#0080ff"/>
<rect x="648" y="552" width="2" height="2" fill="#80ffff"/>
<rect x="348" y="554" width="2" height="2" fill="#80ffff"/>
<rect x="352" y="554" width="4" height="2" fill="#80ffff"/>
<rect x="358" y="554" width="8" height="2" fill="#80ffff"/>
<rect x="440" y="554" width="2" height="2" fill="#00ffff"/>
<rect x="648" y="554" width="2" height="2" fill="#0080ff"/>
<rect x="352" y="556" width="14" height="2" fill="#80ffff"/>
<rect x="440" y="556" width="2" height="4" fill="#0000ff"/>
<rect x="648" y="556" width="2" height="4" fill="#0000ff"/>
<rect x="354" y="558" width="12" height="2" fill="#80ffff"/>
<rect x="32" y="599" width="2" height="2" fill="#00ffff"/>
<rect x="44" y="599" width="2" height="2" fill="#00ffff"/>
<rect x="56" y="599" width="2" height="2" fill="#00ffff"/>
<rect x="60" y="599" width="2" height="2" fill="#00ffff"/>
<rect x="70" y="599" width="4" height="2" fill="#00ffff"/>
<rect x="76" y="599" width="2" height="2" fill="#00ffff"/>
<rect x="80" y="599" width="2" height="2" fill="#00ffff"/>
<rect x="86" y="599" width="4" height="2" fill="#00ffff"/>
<rect x="98" y="599" width="6" height="2" fill="#00ffff"/>
<rect x="106" y="599" width="6" height="2" fill="#00ffff"/>
<rect x="114" y="599" width="2" height="2" fill="#00ffff"/>
<rect x="118" y="599" width="6" height="2" fill="#00ffff"/>
<rect x="130" y="599" width="2" height="2" fill="#00ffff"/>
<rect x="134" y="599" width="4" height="2" fill="#00ffff"/>
<rect x="142" y="599" width="2" height="2" fill="#00ffff"/>
<rect x="142" y="603" width="2" height="2" fill="#00ffff"/>
<rect x="150" y="599" width="2" height="2" fill="#00ffff"/>
<rect x="154" y="599" width="2" height="2" fill="#00ffff"/>
<rect x="160" y="599" width="2" height="2" fill="#00ffff"/>
<rect x="164" y="599" width="8" height="2" fill="#00ffff"/>
<rect x="176" y="599" width="2" height="2" fill="#00ffff"/>
<rect x="190" y="599" width="8" height="2" fill="#00ffff"/>
<rect x="200" y="599" width="2" height="2" fill="#00ffff"/>
<rect x="220" y="599" width="2" height="2" fill="#00ffff"/>
<rect x="224" y="599" width="2" height="2" fill="#00ffff"/>
<rect x="228" y="599" width="6" height="2" fill="#00ffff"/>
<rect x="250" y="599" width="4" height="2" fill="#00ffff"/>
<rect x="260" y="599" width="2" height="2" fill="#00ffff"/>
<rect x="270" y="599" width="6" height="2" fill="#00ffff"/>
<rect x="282" y="599" width="2" height="2" fill="#00ffff"/>
<rect x="286" y="599" width="8" height="2" fill="#00ffff"/>
<rect x="302" y="599" width="2" height="2" fill="#00ffff"/>
<rect x="314" y="599" width="4" height="2" fill="#00ffff"/>
<rect x="320" y="599" width="2" height="2" fill="#00ffff"/>
<rect x="324" y="599" width="2" height="2" fill="#00ffff"/>
<rect x="346" y="599" width="2" height="2" fill="#00ffff"/>
<rect x="346" y="801" width="2" height="6" fill="#00ffff"/>
<rect x="354" y="599" width="6" height="2" fill="#00ffff"/>
<rect x="362" y="599" width="2" height="2" fill="#00ffff"/>
<rect x="372" y="599" width="2" height="2" fill="#00ffff"/>
<rect x="378" y="599" width="2" height="2" fill="#00ffff"/>
<rect x="388" y="599" width="2" height="2" fill="#00ffff"/>
<rect x="388" y="605" width="2" height="2" fill="#00ffff"/>
<rect x="394" y="599" width="6" height="2" fill="#00ffff"/>
<rect x="402" y="599" width="4" height="2" fill="#00ffff"/>
<rect x="408" y="599" width="6" height="2" fill="#00ffff"/>
<rect x="422" y="599" width="4" height="2" fill="#00ffff"/>
<rect x="442" y="599" width="6" height="2" fill="#00ffff"/>
<rect x="454" y="599" width="2" height="2" fill="#00ffff"/>
<rect x="468" y="599" width="2" height="2" fill="#00ffff"/>
<rect x="472" y="599" width="4" height="2" fill="#00ffff"/>
<rect x="480" y="599" width="4" height="2" fill="#00ffff"/>
<rect x="490" y="599" width="2" height="2" fill="#00ffff"/>
<rect x="498" y="599" width="2" height="2" fill="#00ffff"/>
<rect x="512" y="599" width="16" height="2" fill="#00ffff"/>
<rect x="530" y="599" width="2" height="2" fill="#00ffff"/>
<rect x="536" y="599" width="6" height="2" fill="#00ffff"/>
<rect x="544" y="599" width="2" height="2" fill="#00ffff"/>
<rect x="544" y="605" width="2" height="2" fill="#00ffff"/>
<rect x="548" y="599" width="2" height="2" fill="#00ffff"/>
<rect x="556" y="599" width="4" height="2" fill="#00ffff"/>
<rect x="564" y="599" width="2" height="2" fill="#00ffff"/>
<rect x="572" y="599" width="2" height="2" fill="#00ffff"/>
<rect x="576" y="599" width="4" height="2" fill="#00ffff"/>
<rect x="582" y="599" width="8" height="2" fill="#00ffff"/>
<rect x="600" y="599" width="2" height="2" fill="#00ffff"/>
<rect x="608" y="599" width="4" height="2" fill="#00ffff"/>
<rect x="616" y="599" width="4" height="2" fill="#00ffff"/>
<rect x="622" y="599" width="4" height="2" fill="#00ffff"/>
<rect x="628" y="599" width="2" height="2" fill="#00ffff"/>
<rect x="632" y="599" width="2" height="2" fill="#00ffff"/>
<rect x="640" y="599" width="2" height="2" fill="#00ffff"/>
<rect x="644" y="599" width="4" height="2" fill="#00ffff"/>
<rect x="652" y="599" width="2" height="2" fill="#00ffff"/>
<rect x="656" y="599" width="2" height="2" fill="#00ffff"/>
<rect x="656" y="605" width="2" height="2" fill="#00ffff"/>
<rect x="660" y="599" width="2" height="2" fill="#00ffff"/>
<rect x="666" y="599" width="4" height="2" fill="#00ffff"/>
<rect x="672" y="599" width="2" height="2" fill="#00ffff"/>
<rect x="672" y="605" width="2" height="2" fill="#00ffff"/>
<rect x="690" y="599" width="6" height="2" fill="#00ffff"/>
<rect x="698" y="599" width="2" height="2" fill="#00ffff"/>
<rect x="706" y="599" width="6" height="2" fill="#00ffff"/>
<rect x="724" y="599" width="4" height="2" fill="#00ffff"/>
<rect x="734" y="599" width="6" height="2" fill="#00ffff"/>
<rect x="748" y="599" width="2" height="2" fill="#00ffff"/>
<rect x="30" y="601" width="4" height="4" fill="#00c000"/>
<rect x="44" y="601" width="2" height="4" fill="#00c000"/>
<rect x="56" y="601" width="2" height="4" fill="#00c000"/>
<rect x="60" y="601" width="2" height="4" fill="#00c000"/>
<rect x="70" y="601" width="4" height="4" fill="#00c000"/>
<rect x="76" y="601" width="2" height="4" fill="#00c000"/>
<rect x="80" y="601" width="2" height="4" fill="#00c000"/>
<rect x="86" y="601" width="4" height="4" fill="#00c000"/>
<rect x="96" y="601" width="8" height="4" fill="#00c000"/>
<rect x="106" y="601" width="6" height="4" fill="#00c000"/>
<rect x="114" y="601" width="2" height="4" fill="#00c000"/>
<rect x="118" y="601" width="6" height="2" fill="#00c000"/>
<rect x="130" y="601" width="2" height="4" fill="#00c000"/>
<rect x="134" y="601" width="4" height="4" fill="#00c000"/>
<rect x="142" y="601" width="2" height="2" fill="#00c000"/>
<rect x="150" y="601" width="2" height="4" fill="#00c000"/>
<rect x="154" y="601" width="2" height="4" fill="#00c000"/>
<rect x="160" y="601" width="2" height="4" fill="#00c000"/>
<rect x="164" y="601" width="8" height="2" fill="#00c000"/>
<rect x="176" y="601" width="2" height="4" fill="#00c000"/>
<rect x="190" y="601" width="8" height="4" fill="#00c000"/>
<rect x="200" y="601" width="2" height="4" fill="#00c000"/>
<rect x="220" y="601" width="2" height="4" fill="#00c000"/>
<rect x="224" y="601" width="2" height="4" fill="#00c000"/>
<rect x="228" y="601" width="6" height="4" fill="#00c000"/>
<rect x="238" y="601" width="2" height="4" fill="#00c000"/>
<rect x="250" y="601" width="4" height="4" fill="#00c000"/>
<rect x="260" y="601" width="2" height="4" fill="#00c000"/>
<rect x="266" y="601" width="2" height="4" fill="#00c000"/>
<rect x="270" y="601" width="6" height="4" fill="#00c000"/>
<rect x="278" y="601" width="2" height="4" fill="#00c000"/>
<rect x="282" y="601" width="2" height="4" fill="#00c000"/>
<rect x="286" y="601" width="8" height="4" fill="#00c000"/>
<rect x="300" y="601" width="4" height="4" fill="#00c000"/>
<rect x="314" y="601" width="4" height="4" fill="#00c000"/>
<rect x="320" y="601" width="2" height="4" fill="#00c000"/>
<rect x="324" y="601" width="2" height="4" fill="#00c000"/>
<rect x="346" y="601" width="2" height="4" fill="#00c000"/>
<rect x="352" y="601" width="8" height="4" fill="#00c000"/>
<rect x="362" y="601" width="2" height="4" fill="#00c000"/>
<rect x="368" y="601" width="2" height="4" fill="#00c000"/>
<rect x="372" y="601" width="2" height="4" fill="#00c000"/>
<rect x="378" y="601" width="2" height="4" fill="#00c000"/>
<rect x="388" y="601" width="2" height="4" fill="#00c000"/>
<rect x="392" y="601" width="8" height="2" fill="#00c000"/>
<rect x="402" y="601" width="4" height="4" fill="#00c000"/>
<rect x="408" y="601" width="6" height="4" fill="#00c000"/>
<rect x="422" y="601" width="4" height="4" fill="#00c000"/>
<rect x="442" y="601" width="6" height="4" fill="#00c000"/>
<rect x="454" y="601" width="2" height="4" fill="#00c000"/>
<rect x="458" y="601" width="2" height="4" fill="#00c000"/>
<rect x="468" y="601" width="2" height="4" fill="#00c000"/>
<rect x="472" y="601" width="4" height="4" fill="#00c000"/>
<rect x="480" y="601" width="4" height="4" fill="#00c000"/>
<rect x="490" y="601" width="2" height="4" fill="#00c000"/>
<rect x="498" y="601" width="2" height="4" fill="#00c000"/>
<rect x="512" y="601" width="16" height="2" fill="#00c000"/>
<rect x="530" y="601" width="2" height="4" fill="#00c000"/>
<rect x="536" y="601" width="6" height="4" fill="#00c000"/>
<rect x="544" y="601" width="2" height="4" fill="#00c000"/>
<rect x="548" y="601" width="2" height="4" fill="#00c000"/>
<rect x="556" y="601" width="4" height="4" fill="#00c000"/>
<rect x="564" y="601" width="2" height="4" fill="#00c000"/>
<rect x="570" y="601" width="4" height="4" fill="#00c000"/>
<rect x="576" y="601" width="14" height="4" fill="#00c000"/>
<rect x="594" y="601" width="2" height="4" fill="#00c000"/>
<rect x="600" y="601" width="4" height="4" fill="#00c000"/>
<rect x="608" y="601" width="4" height="2" fill="#00c000"/>
<rect x="614" y="601" width="6" height="4" fill="#00c000"/>
<rect x="622" y="601" width="4" height="4" fill="#00c000"/>
<rect x="628" y="601" width="2" height="4" fill="#00c000"/>
<rect x="632" y="601" width="2" height="4" fill="#00c000"/>
<rect x="640" y="601" width="2" height="4" fill="#00c000"/>
<rect x="644" y="601" width="4" height="4" fill="#00c000"/>
<rect x="652" y="601" width="2" height="4" fill="#00c000"/>
<rect x="656" y="601" width="2" height="4" fill="#00c000"/>
<rect x="660" y="601" width="2" height="4" fill="#00c000"/>
<rect x="664" y="601" width="6" height="2" fill="#00c000"/>
<rect x="672" y="601" width="2" height="4" fill="#00c000"/>
<rect x="690" y="601" width="6" height="4" fill="#00c000"/>
<rect x="698" y="601" width="2" height="4" fill="#00c000"/>
<rect x="706" y="601" width="8" height="4" fill="#00c000"/>
<rect x="724" y="601" width="8" height="4" fill="#00c000"/>
<rect x="734" y="601" width="6" height="4" fill="#00c000"/>
<rect x="744" y="601" width="2" height="4" fill="#00c000"/>
<rect x="748" y="601" width="2" height="4" fill="#00c000"/>
<rect x="90" y="603" width="2" height="2" fill="#00ffff"/>
<rect x="118" y="603" width="4" height="2" fill="#00c000"/>
<rect x="122" y="603" width="2" height="2" fill="#00ffff"/>
<rect x="164" y="603" width="4" height="2" fill="#00c000"/>
<rect x="168" y="603" width="2" height="2" fill="#00ffff"/>
<rect x="170" y="603" width="2" height="2" fill="#00c000"/>
<rect x="392" y="603" width="6" height="2" fill="#00c000"/>
<rect x="398" y="603" width="2" height="2" fill="#00ffff"/>
<rect x="512" y="603" width="12" height="2" fill="#00c000"/>
<rect x="524" y="603" width="2" height="2" fill="#00ffff"/>
<rect x="526" y="603" width="2" height="2" fill="#00c000"/>
<rect x="608" y="603" width="2" height="2" fill="#00c000"/>
<rect x="610" y="603" width="2" height="2" fill="#00ffff"/>
<rect x="664" y="603" width="4" height="2" fill="#00c000"/>
<rect x="668" y="603" width="2" height="2" fill="#00ffff"/>
<rect x="30" y="605" width="2" height="2" fill="#00ffff"/>
<rect x="96" y="605" width="2" height="2" fill="#00ffff"/>
<rect x="110" y="605" width="2" height="2" fill="#00ffff"/>
<rect x="252" y="605" width="2" height="2" fill="#00ffff"/>
<rect x="266" y="605" width="2" height="2" fill="#00ffff"/>
<rect x="278" y="605" width="2" height="2" fill="#00ffff"/>
<rect x="300" y="605" width="2" height="2" fill="#00ffff"/>
<rect x="314" y="605" width="2" height="2" fill="#00ffff"/>
<rect x="352" y="605" width="2" height="2" fill="#00ffff"/>
<rect x="352" y="825" width="2" height="4" fill="#00ffff"/>
<rect x="368" y="605" width="2" height="2" fill="#00ffff"/>
<rect x="392" y="605" width="2" height="2" fill="#00ffff"/>
<rect x="516" y="605" width="2" height="2" fill="#00ffff"/>
<rect x="526" y="605" width="2" height="2" fill="#00ffff"/>
<rect x="536" y="605" width="2" height="2" fill="#00ffff"/>
<rect x="570" y="605" width="2" height="2" fill="#00ffff"/>
<rect x="586" y="605" width="2" height="2" fill="#00ffff"/>
<rect x="614" y="605" width="2" height="2" fill="#00ffff"/>
<rect x="664" y="605" width="2" height="2" fill="#00ffff"/>
<rect x="706" y="605" width="2" height="2" fill="#00ffff"/>
<rect x="710" y="605" width="4" height="2" fill="#00ffff"/>
<rect x="738" y="605" width="2" height="2" fill="#00ffff"/>
<rect x="552" y="753" width="2" height="2" fill="#0000c0"/>
<rect x="552" y="769" width="2" height="2" fill="#0000c0"/>
<rect x="552" y="773" width="2" height="2" fill="#0000c0"/>
<rect x="552" y="755" width="2" height="2" fill="#00c0ff"/>
<rect x="552" y="775" width="2" height="6" fill="#00c0ff"/>
<rect x="552" y="757" width="2" height="12" fill="#00ffff"/>
<rect x="554" y="759" width="2" height="6" fill="#0000c0"/>
<rect x="554" y="767" width="2" height="2" fill="#0000c0"/>
<rect x="554" y="775" width="2" height="2" fill="#0000c0"/>
<rect x="554" y="765" width="2" height="2" fill="#00c0ff"/>
<rect x="554" y="769" width="2" height="6" fill="#00c0ff"/>
<rect x="352" y="767" width="2" height="4" fill="#0000c0"/>
<rect x="352" y="773" width="2" height="2" fill="#0000c0"/>
<rect x="352" y="835" width="2" height="2" fill="#0000c0"/>
<rect x="548" y="767" width="2" height="2" fill="#00c0ff"/>
<rect x="548" y="771" width="2" height="12" fill="#00c0ff"/>
<rect x="550" y="767" width="2" height="2" fill="#0000c0"/>
<rect x="548" y="769" width="4" height="2" fill="#00c0ff"/>
<rect x="348" y="771" width="2" height="2" fill="#ffffff"/>
<rect x="350" y="771" width="4" height="2" fill="#0000c0"/>
<rect x="350" y="775" width="4" height="6" fill="#0000c0"/>
<rect x="550" y="771" width="2" height="10" fill="#00ffff"/>
<rect x="552" y="771" width="2" height="2" fill="#ffffff"/>
<rect x="552" y="791" width="2" height="2" fill="#ffffff"/>
<rect x="348" y="773" width="2" height="2" fill="#0000c0"/>
<rect x="348" y="783" width="2" height="10" fill="#0000c0"/>
<rect x="348" y="797" width="2" height="2" fill="#0000c0"/>
<rect x="348" y="825" width="2" height="4" fill="#0000c0"/>
<rect x="350" y="773" width="2" height="2" fill="#00c0ff"/>
<rect x="350" y="807" width="2" height="8" fill="#00c0ff"/>
<rect x="350" y="825" width="2" height="4" fill="#00c0ff"/>
<rect x="348" y="775" width="2" height="6" fill="#00c0ff"/>
<rect x="348" y="801" width="2" height="2" fill="#00c0ff"/>
<rect x="546" y="775" width="2" height="2" fill="#ffffff"/>
<rect x="546" y="787" width="2" height="2" fill="#ffffff"/>
<rect x="336" y="779" width="2" height="2" fill="#0000c0"/>
<rect x="356" y="779" width="2" height="2" fill="#ffffff"/>
<rect x="356" y="823" width="2" height="2" fill="#ffffff"/>
<rect x="546" y="779" width="2" height="4" fill="#0000c0"/>
<rect x="546" y="785" width="2" height="2" fill="#0000c0"/>
<rect x="338" y="781" width="2" height="2" fill="#0000c0"/>
<rect x="338" y="785" width="2" height="8" fill="#0000c0"/>
<rect x="348" y="781" width="6" height="2" fill="#0000c0"/>
<rect x="356" y="781" width="2" height="2" fill="#0000c0"/>
<rect x="356" y="787" width="2" height="10" fill="#0000c0"/>
<rect x="356" y="825" width="2" height="2" fill="#0000c0"/>
<rect x="550" y="781" width="4" height="6" fill="#00ffff"/>
<rect x="336" y="783" width="4" height="2" fill="#0000c0"/>
<rect x="336" y="793" width="4" height="2" fill="#0000c0"/>
<rect x="350" y="783" width="4" height="4" fill="#00c0ff"/>
<rect x="350" y="815" width="4" height="2" fill="#00c0ff"/>
<rect x="354" y="783" width="4" height="4" fill="#0000c0"/>
<rect x="546" y="783" width="4" height="2" fill="#0000c0"/>
<rect x="334" y="785" width="2" height="4" fill="#0000c0"/>
<rect x="336" y="785" width="2" height="4" fill="#00c0ff"/>
<rect x="342" y="787" width="4" height="4" fill="#0000c0"/>
<rect x="350" y="787" width="6" height="12" fill="#00c0ff"/>
<rect x="350" y="829" width="6" height="2" fill="#00c0ff"/>
<rect x="550" y="787" width="4" height="2" fill="#00c0ff"/>
<rect x="334" y="789" width="4" height="4" fill="#00c0ff"/>
<rect x="550" y="789" width="4" height="2" fill="#0000c0"/>
<rect x="342" y="791" width="2" height="4" fill="#0000c0"/>
<rect x="342" y="799" width="2" height="2" fill="#0000c0"/>
<rect x="342" y="811" width="2" height="2" fill="#0000c0"/>
<rect x="342" y="815" width="2" height="2" fill="#0000c0"/>
<rect x="344" y="791" width="2" height="6" fill="#00c0ff"/>
<rect x="344" y="801" width="2" height="14" fill="#00c0ff"/>
<rect x="334" y="793" width="2" height="6" fill="#00c0ff"/>
<rect x="340" y="793" width="2" height="2" fill="#ffffff"/>
<rect x="340" y="799" width="2" height="2" fill="#ffffff"/>
<rect x="346" y="793" width="4" height="4" fill="#0000c0"/>
<rect x="336" y="795" width="8" height="4" fill="#0000c0"/>
<rect x="336" y="801" width="8" height="8" fill="#0000c0"/>
<rect x="344" y="797" width="4" height="4" fill="#00c0ff"/>
<rect x="344" y="815" width="4" height="2" fill="#00c0ff"/>
<rect x="334" y="799" width="6" height="2" fill="#0000c0"/>
<rect x="348" y="799" width="4" height="2" fill="#0000c0"/>
<rect x="352" y="799" width="4" height="2" fill="#00c0ff"/>
<rect x="334" y="801" width="2" height="2" fill="#ffffff"/>
<rect x="350" y="801" width="2" height="2" fill="#0000c0"/>
<rect x="350" y="831" width="2" height="2" fill="#0000c0"/>
<rect x="352" y="801" width="2" height="2" fill="#00c0ff"/>
<rect x="354" y="801" width="2" height="4" fill="#0000c0"/>
<rect x="354" y="807" width="2" height="6" fill="#0000c0"/>
<rect x="354" y="821" width="2" height="4" fill="#0000c0"/>
<rect x="348" y="803" width="6" height="2" fill="#00c0ff"/>
<rect x="348" y="823" width="6" height="2" fill="#00c0ff"/>
<rect x="348" y="805" width="4" height="2" fill="#00c0ff"/>
<rect x="352" y="805" width="4" height="2" fill="#0000c0"/>
<rect x="352" y="813" width="4" height="2" fill="#0000c0"/>
<rect x="346" y="807" width="4" height="8" fill="#00ffff"/>
<rect x="352" y="807" width="2" height="6" fill="#ffffff"/>
<rect x="336" y="809" width="4" height="2" fill="#ffffff"/>
<rect x="336" y="813" width="4" height="2" fill="#ffffff"/>
<rect x="340" y="809" width="4" height="2" fill="#0000c0"/>
<rect x="340" y="813" width="4" height="2" fill="#0000c0"/>
<rect x="336" y="811" width="6" height="2" fill="#ffffff"/>
<rect x="338" y="815" width="4" height="2" fill="#ffffff"/>
<rect x="348" y="815" width="2" height="2" fill="#00ffff"/>
<rect x="354" y="815" width="2" height="6" fill="#ffffff"/>
<rect x="338" y="817" width="6" height="2" fill="#ffffff"/>
<rect x="344" y="817" width="2" height="6" fill="#0000c0"/>
<rect x="346" y="817" width="8" height="6" fill="#00c0ff"/>
<rect x="338" y="819" width="2" height="6" fill="#ffffff"/>
<rect x="342" y="819" width="2" height="2" fill="#ffffff"/>
<rect x="344" y="823" width="2" height="2" fill="#ffffff"/>
<rect x="346" y="823" width="2" height="2" fill="#0000c0"/>
<rect x="344" y="825" width="4" height="2" fill="#ffffff"/>
<rect x="354" y="825" width="2" height="4" fill="#00c0ff"/>
<rect x="358" y="825" width="2" height="2" fill="#ffffff"/>
<rect x="346" y="827" width="2" height="2" fill="#ffffff"/>
<rect x="346" y="839" width="2" height="2" fill="#ffffff"/>
<rect x="356" y="827" width="4" height="4" fill="#0000c0"/>
<rect x="360" y="827" width="2" height="4" fill="#ffffff"/>
<rect x="346" y="829" width="4" height="4" fill="#ffffff"/>
<rect x="446" y="829" width="2" height="2" fill="#0000c0"/>
<rect x="352" y="831" width="6" height="2" fill="#00c0ff"/>
<rect x="358" y="831" width="4" height="2" fill="#0000c0"/>
<rect x="440" y="831" width="2" height="2" fill="#ffffff"/>
<rect x="446" y="831" width="2" height="8" fill="#00ffff"/>
<rect x="648" y="831" width="2" height="2" fill="#ffffff"/>
<rect x="346" y="833" width="6" height="4" fill="#ffffff"/>
<rect x="352" y="833" width="10" height="2" fill="#00c0ff"/>
<rect x="362" y="833" width="2" height="2" fill="#ffffff"/>
<rect x="440" y="833" width="2" height="2" fill="#0000c0"/>
<rect x="556" y="833" width="2" height="8" fill="#ffffff"/>
<rect x="648" y="833" width="2" height="2" fill="#00c0ff"/>
<rect x="354" y="835" width="8" height="4" fill="#00c0ff"/>
<rect x="362" y="835" width="2" height="4" fill="#0000c0"/>
<rect x="364" y="835" width="2" height="2" fill="#ffffff"/>
<rect x="440" y="835" width="2" height="2" fill="#00c0ff"/>
<rect x="648" y="835" width="2" height="2" fill="#00c000"/>
<rect x="142" y="837" width="2" height="4" fill="#ffffff"/>
<rect x="250" y="837" width="2" height="4" fill="#ffffff"/>
<rect x="272" y="837" width="4" height="4" fill="#ffffff"/>
<rect x="278" y="837" width="2" height="4" fill="#ffffff"/>
<rect x="346" y="837" width="8" height="2" fill="#ffffff"/>
<rect x="364" y="837" width="4" height="2" fill="#ffffff"/>
<rect x="408" y="837" width="2" height="2" fill="#ffffff"/>
<rect x="440" y="837" width="2" height="4" fill="#00c000"/>
<rect x="522" y="837" width="6" height="4" fill="#ffffff"/>
<rect x="532" y="837" width="4" height="4" fill="#ffffff"/>
<rect x="648" y="837" width="2" height="4" fill="#ffff00"/>
<rect x="651" y="837" width="7" height="4" fill="#ffffff"/>
<rect x="660" y="837" width="2" height="4" fill="#ffffff"/>
<rect x="147" y="838" width="2" height="1" fill="#ffffff"/>
<rect x="147" y="839" width="5" height="2" fill="#ffffff"/>
<rect x="154" y="839" width="2" height="2" fill="#ffffff"/>
<rect x="282" y="839" width="4" height="2" fill="#ffffff"/>
<rect x="350" y="839" width="4" height="2" fill="#ffffff"/>
<rect x="354" y="839" width="8" height="2" fill="#0000c0"/>
<rect x="362" y="839" width="6" height="2" fill="#ffffff"/>
<rect x="400" y="839" width="2" height="2" fill="#ffffff"/>
<rect x="406" y="839" width="6" height="2" fill="#ffffff"/>
<rect x="446" y="839" width="2" height="2" fill="#ffffff"/>
<rect x="30" y="25" width="720" height="1" fill="#000"/>
<rect x="30" y="280" width="720" height="1" fill="#000"/>
<rect x="30" y="25" width="1" height="256" fill="#000"/>
<rect x="749" y="25" width="1" height="256" fill="#000"/>
<rect x="210" y="25" width="1" height="256" fill="#000"/>
<rect x="390" y="25" width="1" height="256" fill="#000"/>
<rect x="570" y="25" width="1" height="256" fill="#000"/>
<rect x="30" y="40" width="720" height="1" fill="#000"/>
<rect x="30" y="100" width="720" height="1" fill="#000"/>
<rect x="30" y="160" width="720" height="1" fill="#000"/>
<rect x="30" y="220" width="720" height="1" fill="#000"/>
<rect x="30" y="306" width="720" height="1" fill="#000"/>
<rect x="30" y="561" width="720" height="1" fill="#000"/>
<rect x="30" y="306" width="1" height="256" fill="#000"/>
<rect x="749" y="306" width="1" height="256" fill="#000"/>
<rect x="210" y="306" width="1" height="256" fill="#000"/>
<rect x="390" y="306" width="1" height="256" fill="#000"/>
<rect x="570" y="306" width="1" height="256" fill="#000"/>
<rect x="30" y="321" width="720" height="1" fill="#000"/>
<rect x="30" y="381" width="720" height="1" fill="#000"/>
<rect x="30" y="441" width="720" height="1" fill="#000"/>
<rect x="30" y="501" width="720" height="1" fill="#000"/>
<rect x="30" y="587" width="720" height="1" fill="#000"/>
<rect x="30" y="842" width="720" height="1" fill="#000"/>
<rect x="30" y="587" width="1" height="256" fill="#000"/>
<rect x="749" y="587" width="1" height="256" fill="#000"/>
<rect x="210" y="587" width="1" height="256" fill="#000"/>
<rect x="390" y="587" width="1" height="256" fill="#000"/>
<rect x="570" y="587" width="1" height="256" fill="#000"/>
<rect x="30" y="602" width="720" height="1" fill="#000"/>
<rect x="30" y="662" width="720" height="1" fill="#000"/>
<rect x="30" y="722" width="720" height="1" fill="#000"/>
<rect x="30" y="782" width="720" height="1" fill="#000"/>
<rect x="784" y="78" width="31" height="13" fill="#ff00ff"/><rect x="784" y="91" width="31" height="14" fill="#ff0000"/><rect x="784" y="105" width="31" height="13" fill="#ff8000"/><rect x="784" y="118" width="31" height="14" fill="#ffff00"/><rect x="784" y="132" width="31" height="14" fill="#80ff00"/><rect x="784" y="146" width="31" height="13" fill="#00c000"/><rect x="784" y="159" width="31" height="14" fill="#00ffff"/><rect x="784" y="173" width="31" height="14" fill="#0080ff"/><rect x="784" y="187" width="31" height="13" fill="#0000ff"/>
<rect x="784" y="214" width="31" height="14" fill="#dedede"/>
<rect x="784" y="359" width="31" height="9" fill="#000000"/><rect x="784" y="368" width="31" height="9" fill="#580058"/><rect x="784" y="377" width="31" height="10" fill="#b000b0"/><rect x="784" y="387" width="31" height="9" fill="#ff00ff"/><rect x="784" y="396" width="31" height="9" fill="#ff0070"/><rect x="784" y="405" width="31" height="10" fill="#ff0000"/><rect x="784" y="415" width="31" height="9" fill="#ff8000"/><rect x="784" y="424" width="31" height="10" fill="#ffff00"/><rect x="784" y="434" width="31" height="9" fill="#80ff40"/><rect x="784" y="443" width="31" height="9" fill="#00c000"/><rect x="784" y="452" width="31" height="10" fill="#0000ff"/><rect x="784" y="462" width="31" height="9" fill="#0080ff"/><rect x="784" y="471" width="31" height="9" fill="#00ffff"/><rect x="784" y="480" width="31" height="10" fill="#80ffff"/>
<rect x="784" y="499" width="31" height="10" fill="#dedede"/>
<rect x="784" y="640" width="31" height="12" fill="#a040a0"/><rect x="784" y="652" width="31" height="13" fill="#e000e0"/><rect x="784" y="665" width="31" height="12" fill="#a000a0"/><rect x="784" y="677" width="31" height="13" fill="#ff0000"/><rect x="784" y="690" width="31" height="12" fill="#ff8000"/><rect x="784" y="702" width="31" height="13" fill="#ffff00"/><rect x="784" y="715" width="31" height="12" fill="#00c000"/><rect x="784" y="727" width="31" height="13" fill="#00ffff"/><rect x="784" y="740" width="31" height="12" fill="#00c0ff"/><rect x="784" y="752" width="31" height="13" fill="#0000c0"/>
<rect x="784" y="777" width="31" height="13" fill="#dedede"/>
</g>
<g class="s">
<text filter="url(#bw)" x="17.25" y="294">07:00</text>
<text filter="url(#bw)" x="197.25" y="294">07:15</text>
<text filter="url(#bw)" x="377.25" y="294">07:30</text>
<text filter="url(#bw)" x="557.25" y="294">07:45</text>
<text filter="url(#bw)" x="737.25" y="294">08:00</text>
<text filter="url(#bw)" x="753.25" y="47">3 km</text>
<text filter="url(#bw)" x="753.25" y="126">2 km</text>
<text filter="url(#bw)" x="753.25" y="207">1 km</text>
<text filter="url(#bw)" x="753.25" y="285">0 km</text>
<text filter="url(#bw)" x="17.25" y="574">07:00</text>
<text filter="url(#bw)" x="197.25" y="574">07:15</text>
<text filter="url(#bw)" x="377.25" y="574">07:30</text>
<text filter="url(#bw)" x="557.25" y="574">07:45</text>
<text filter="url(#bw)" x="737.25" y="574">08:00</text>
<text filter="url(#bw)" x="753.25" y="325">3 km</text>
<text filter="url(#bw)" x="753.25" y="404">2 km</text>
<text filter="url(#bw)" x="753.25" y="487">1 km</text>
<text filter="url(#bw)" x="753.25" y="565">0 km</text>
<text filter="url(#bw)" x="17.25" y="854">07:00</text>
<text filter="url(#bw)" x="197.25" y="854">07:15</text>
<text filter="url(#bw)" x="377.25" y="854">07:30</text>
<text filter="url(#bw)" x="557.25" y="854">07:45</text>
<text filter="url(#bw)" x="737.25" y="854">08:00</text>
<text filter="url(#bw)" x="753.25" y="607">3 km</text>
<text filter="url(#bw)" x="753.25" y="686">2 km</text>
<text filter="url(#bw)" x="753.25" y="767">1 km</text>
<text filter="url(#bw)" x="753.25" y="845">0 km</text>
<text filter="url(#bw3)" x="800.5" y="76">m/s</text>
<text filter="url(#bw)" x="817.25" y="94">8.0</text>
<text filter="url(#bw)" x="817.25" y="108">7.0</text>
<text filter="url(#bw)" x="817.25" y="122">6.0</text>
<text filter="url(#bw)" x="817.25" y="136">5.0</text>
<text filter="url(#bw)" x="817.25" y="150">4.0</text>
<text filter="url(#bw)" x="817.25" y="164">3.0</text>
<text filter="url(#bw)" x="817.25" y="178">2.0</text>
<text filter="url(#bw)" x="817.25" y="192">1.0</text>
<text filter="url(#bw)" x="817.25" y="206">0.0</text>
<text filter="url(#bw)" x="818.25" y="220">miss</text>
<text filter="url(#bw3)" x="800.5" y="356">mm/hr</text>
<text filter="url(#bw)" x="817.25" y="369">48.0</text>
<text filter="url(#bw)" x="817.25" y="389">12.0</text>
<text filter="url(#bw)" x="817.25" y="408">6.0</text>
<text filter="url(#bw)" x="817.25" y="427">3.0</text>
<text filter="url(#bw)" x="817.25" y="447">1.5</text>
<text filter="url(#bw)" x="817.25" y="467">0.5</text>
<text filter="url(#bw)" x="817.25" y="485">0.1</text>
<text filter="url(#bw)" x="817.25" y="495">0.0</text>
<text filter="url(#bw)" x="818.25" y="504">miss</text>
<text filter="url(#bw)" x="800.25" y="637">dBZ</text>
<text filter="url(#bw)" x="819.25" y="656">40.0</text>
<text filter="url(#bw)" x="819.25" y="669">35.0</text>
<text filter="url(#bw)" x="819.25" y="681">30.0</text>
<text filter="url(#bw)" x="819.25" y="695">25.0</text>
<text filter="url(#bw)" x="819.25" y="707">20.0</text>
<text filter="url(#bw)" x="819.25" y="720">15.0</text>
<text filter="url(#bw)" x="819.25" y="733">10.0</text>
<text filter="url(#bw)" x="819.25" y="745">5.0</text>
<text filter="url(#bw)" x="819.25" y="758">0.0</text>
<text filter="url(#bw)" x="819.25" y="770">−5.0</text>
<text filter="url(#bw)" x="818.25" y="779">none</text>
</g>
<g filter="url(#bw2)" style="font-size:24px;stroke:#000;stroke-width:0.35px">
<text transform="translate(241.5,21) scale(1,1.12)">2026</text>
<text transform="translate(305.5,21) scale(1,1.12)">01</text>
<text transform="translate(345.5,21) scale(1,1.12)">07</text>
<text transform="translate(387.5,21) scale(1,1.12)">07</text>
<text transform="translate(418,21) scale(1,1.12)">00</text>
<text transform="translate(457.5,21) scale(1,1.12)">08</text>
<text transform="translate(488,21) scale(1,1.12)">00</text>
<text transform="translate(518,21) scale(0.92,1.12)" style="stroke-width:0.3px">UTC</text>
<text transform="translate(412.6,20.6) scale(0.8,1.17)" style="stroke-width:0;font-size:24px">:</text>
<text transform="translate(482.6,20.6) scale(0.8,1.17)" style="stroke-width:0;font-size:24px">:</text>
</g>
<g filter="url(#bw2)" style="font-size:18px;stroke:#000;stroke-width:0.4px">
<text transform="translate(292.5,22.6) scale(1,2.0)">–</text>
<text transform="translate(332.5,22.6) scale(1,2.0)">–</text>
<text transform="translate(444.5,22.6) scale(1,2.0)">–</text>
</g>
<g filter="url(#bw2)" style="font-size:24px;stroke:#000;stroke-width:0.4px">
<text transform="translate(19,225.5) rotate(-90) scale(1,1.13)"><tspan letter-spacing="0.5">Fall </tspan><tspan letter-spacing="0.65">Velocity</tspan></text>
<text transform="translate(19,512.5) rotate(-90) scale(1,1.13)"><tspan letter-spacing="0">Rain </tspan><tspan letter-spacing="0.84">Intensity</tspan></text>
<text transform="translate(19,779) rotate(-90) scale(1,1.13)"><tspan letter-spacing="0">Reflectivity</tspan></text>
</g>
<g class="g">
<rect x="1" y="95" width="24" height="1" fill="#000"/>
<rect x="1" y="370" width="24" height="1" fill="#000"/>
<rect x="1" y="665" width="24" height="1" fill="#000"/>
</g>
</svg></body></html>
